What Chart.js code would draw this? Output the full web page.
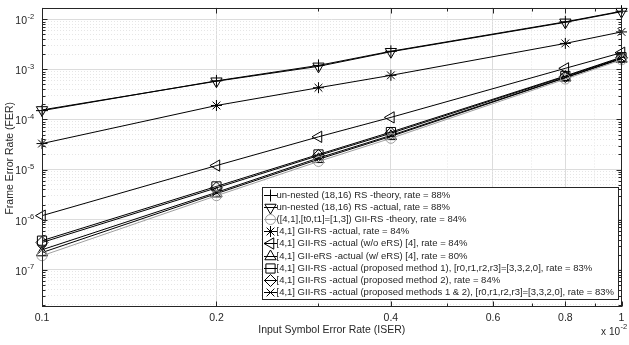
<!DOCTYPE html>
<html>
<head>
<meta charset="utf-8">
<script src="https://cdn.jsdelivr.net/npm/chart.js@4.4.1/dist/chart.umd.min.js"></script>
<style>
  html, body { margin: 0; padding: 0; background: #fff; }
  #wrap { width: 629px; height: 345px; }
</style>
</head>
<body>
<div id="wrap"><canvas id="grafico-fer" width="629" height="345"></canvas></div>
<script>
/* FER vs ISER - curvas em escala log-log */

// Eixo X (ISER, em unidades de 10^-2)
const xValues = [0.1, 0.2, 0.3, 0.4, 0.8, 1.0];
const xTickValues = [0.1, 0.2, 0.4, 0.6, 0.8, 1];
const xTickLabels = ['0.1', '0.2', '0.4', '0.6', '0.8', '1'];
const yTickExponents = [-7, -6, -5, -4, -3, -2];

// Séries (FER)
const rsTheory    = [1.5e-4, 5.9e-4, 1.2e-3, 2.3e-3, 8.9e-3, 1.45e-2];
const rsActual    = [1.55e-4, 5.8e-4, 1.15e-3, 2.25e-3, 8.7e-3, 1.42e-2];
const giiTheory   = [1.9e-7, 3.0e-6, 1.45e-5, 4.2e-5, 6.4e-4, 1.55e-3];
const giiActual   = [3.3e-5, 1.9e-4, 4.3e-4, 7.6e-4, 3.3e-3, 5.6e-3];
const giiNoErs    = [1.2e-6, 1.2e-5, 4.5e-5, 1.1e-4, 1.05e-3, 2.15e-3];
const giiErs      = [2.2e-7, 3.3e-6, 1.6e-5, 4.6e-5, 6.8e-4, 1.62e-3];
const giiMethod1  = [3.8e-7, 4.6e-6, 2.0e-5, 5.6e-5, 7.4e-4, 1.75e-3];
const giiMethod2  = [3.5e-7, 4.3e-6, 1.9e-5, 5.3e-5, 7.2e-4, 1.7e-3];
const giiMethod12 = [2.5e-7, 3.5e-6, 1.7e-5, 4.8e-5, 6.9e-4, 1.65e-3];

const seriesLabels = [
  'un-nested (18,16) RS -theory, rate = 88%',
  'un-nested (18,16) RS -actual, rate = 88%',
  '([4,1],[t0,t1]=[1,3]) GII-RS -theory, rate = 84%',
  '[4,1] GII-RS -actual, rate = 84%',
  '[4,1] GII-RS -actual (w/o eRS) [4], rate = 84%',
  '[4,1] GII-eRS -actual (w/ eRS) [4], rate = 80%',
  '[4,1] GII-RS -actual (proposed method 1), [r0,r1,r2,r3]=[3,3,2,0], rate = 83%',
  '[4,1] GII-RS -actual (proposed method 2), rate = 84%',
  '[4,1] GII-RS -actual (proposed methods 1 & 2), [r0,r1,r2,r3]=[3,3,2,0], rate = 83%'
];
const seriesValues = [rsTheory, rsActual, giiTheory, giiActual, giiNoErs, giiErs, giiMethod1, giiMethod2, giiMethod12];

// Estilo de cada marcador (pointStyle, rotação, raio, cor)
const markerStyles = [
  ['cross', 0, 6, '#000'],
  ['triangle', 180, 6.5, '#000'],
  ['circle', 0, 5, '#a0a0a0'],
  ['star', 0, 5.5, '#000'],
  ['triangle', -90, 6.5, '#000'],
  ['triangle', 0, 6.5, '#000'],
  ['rect', 0, 6.5, '#000'],
  ['rectRot', 0, 6, '#000'],
  ['crossRot', 0, 5.5, '#000']
];

const FONT = '"Liberation Sans", Arial, sans-serif';
const TEXT_COLOR = '#262626';

// Valores do grid do eixo Y (1..9 x 10^k)
const yMin = 1.8e-8, yMax = 1.72e-2;
const yGridValues = [];
for (let e = -8; e <= -2; e++) {
  for (let m = 1; m <= 9; m++) {
    const v = m * Math.pow(10, e);
    if (v >= yMin && v <= yMax) yGridValues.push(v);
  }
}
const xGridValues = [0.1, 0.2, 0.3, 0.4, 0.5, 0.6, 0.7, 0.8, 0.9, 1];

function isMajorX(v) {
  return xTickValues.some(t => Math.abs(t - v) < 1e-9);
}
function isMajorY(v) {
  const l = Math.log10(v);
  return Math.abs(l - Math.round(l)) < 1e-9;
}

const datasets = seriesValues.map((vals, i) => {
  const [style, rot, r, color] = markerStyles[i];
  return {
    label: seriesLabels[i],
    data: vals.map((y, j) => ({ x: xValues[j], y: y })),
    borderColor: color,
    borderWidth: 1,
    pointStyle: style,
    pointRotation: rot,
    pointRadius: r,
    pointBorderColor: color,
    pointBackgroundColor: 'rgba(0,0,0,0)',
    pointBorderWidth: 1,
    tension: 0,
    clip: false
  };
});

// Moldura, ticks internos, rótulos e legenda
const molduraPlugin = {
  id: 'moldura',
  afterDraw(chart) {
    const ctx = chart.ctx;
    const area = chart.chartArea;
    const xs = chart.scales.x;
    const ys = chart.scales.y;
    const L = Math.round(area.left) + 0.5, R = Math.round(area.right) - 0.5;
    const T = Math.round(area.top) + 0.5, B = Math.round(area.bottom) - 0.5;

    ctx.save();
    ctx.strokeStyle = TEXT_COLOR;
    ctx.lineWidth = 1;
    ctx.beginPath();
    xGridValues.forEach(v => {
      const px = Math.round(xs.getPixelForValue(v)) + 0.5;
      const len = isMajorX(v) ? 5 : 3;
      ctx.moveTo(px, B); ctx.lineTo(px, B - len);
      ctx.moveTo(px, T); ctx.lineTo(px, T + len);
    });
    yGridValues.forEach(v => {
      const py = Math.round(ys.getPixelForValue(v)) + 0.5;
      const len = isMajorY(v) ? 5 : 3;
      ctx.moveTo(L, py); ctx.lineTo(L + len, py);
      ctx.moveTo(R, py); ctx.lineTo(R - len, py);
    });
    ctx.stroke();
    ctx.strokeRect(L, T, R - L, B - T);

    // rótulos do eixo X
    ctx.fillStyle = TEXT_COLOR;
    ctx.font = '10.5px ' + FONT;
    ctx.textAlign = 'center';
    ctx.textBaseline = 'middle';
    xTickValues.forEach((v, i) => {
      ctx.fillText(xTickLabels[i], xs.getPixelForValue(v), area.bottom + 11);
    });

    // rótulos do eixo Y (10^k)
    yTickExponents.forEach(e => {
      const py = ys.getPixelForValue(Math.pow(10, e));
      ctx.font = '10.5px ' + FONT;
      ctx.textAlign = 'right';
      ctx.fillText('10', 27, py + 2);
      ctx.font = '7.5px ' + FONT;
      ctx.textAlign = 'left';
      ctx.fillText('-' + Math.abs(e), 27.5, py - 2.5);
    });

    // multiplicador x 10^-2
    ctx.font = '10px ' + FONT;
    ctx.textAlign = 'right';
    ctx.fillText('x 10', 620, 332);
    ctx.font = '7.5px ' + FONT;
    ctx.textAlign = 'left';
    ctx.fillText('-2', 620.5, 327);

    // títulos dos eixos
    ctx.font = '10.5px ' + FONT;
    ctx.textAlign = 'center';
    ctx.fillText('Input Symbol Error Rate (ISER)', (area.left + area.right) / 2, 330);
    ctx.save();
    ctx.translate(10, (area.top + area.bottom) / 2 + 1);
    ctx.rotate(-Math.PI / 2);
    ctx.fillText('Frame Error Rate (FER)', 0, 0);
    ctx.restore();

    // legenda
    const box = { x: 262.5, y: 187.5, w: 356, h: 112 };
    ctx.fillStyle = '#fff';
    ctx.fillRect(box.x, box.y, box.w, box.h);
    ctx.strokeStyle = TEXT_COLOR;
    ctx.strokeRect(box.x, box.y, box.w, box.h);
    ctx.font = '9.5px ' + FONT;
    ctx.textAlign = 'left';
    ctx.textBaseline = 'middle';
    chart.data.datasets.forEach((ds, i) => {
      const cy = Math.round(195 + i * 12.1) + 0.5;
      ctx.strokeStyle = ds.borderColor;
      ctx.lineWidth = 1;
      ctx.beginPath();
      ctx.moveTo(264, cy); ctx.lineTo(277, cy);
      ctx.stroke();
      if (Chart.helpers && Chart.helpers.drawPoint) {
        ctx.fillStyle = 'rgba(0,0,0,0)';
        Chart.helpers.drawPoint(ctx, {
          pointStyle: ds.pointStyle,
          rotation: ds.pointRotation,
          radius: ds.pointRadius,
          borderWidth: 1
        }, 270.5, cy);
      }
      ctx.fillStyle = TEXT_COLOR;
      ctx.fillText(ds.label, 276.5, cy);
    });
    ctx.restore();
  }
};

const ctxGrafico = document.getElementById('grafico-fer');
window.ferChart = new Chart(ctxGrafico, {
  type: 'line',
  data: { datasets: datasets },
  options: {
    responsive: false,
    animation: false,
    devicePixelRatio: 1,
    layout: { padding: { left: 0, right: 4, top: 2, bottom: 0 } },
    plugins: {
      legend: { display: false },
      tooltip: { enabled: false },
      title: { display: false }
    },
    scales: {
      x: {
        type: 'logarithmic',
        min: 0.1,
        max: 1,
        afterBuildTicks: (scale) => {
          scale.ticks = xGridValues.map(v => ({ value: v, major: isMajorX(v) }));
        },
        afterFit: (scale) => { scale.height = 38; },
        ticks: { display: false },
        grid: {
          drawTicks: false,
          color: (c) => (c.tick && c.tick.major) ? '#dcdcdc' : '#e6e6e6'
        },
        border: {
          display: false,
          dash: (c) => (c.tick && !c.tick.major) ? [1, 2] : []
        }
      },
      y: {
        type: 'logarithmic',
        min: yMin,
        max: yMax,
        afterBuildTicks: (scale) => {
          scale.ticks = yGridValues.map(v => ({ value: v, major: isMajorY(v) }));
        },
        afterFit: (scale) => { scale.width = 42; },
        ticks: { display: false },
        grid: {
          drawTicks: false,
          color: (c) => (c.tick && c.tick.major) ? '#dcdcdc' : '#e6e6e6'
        },
        border: {
          display: false,
          dash: (c) => (c.tick && !c.tick.major) ? [1, 2] : []
        }
      }
    }
  },
  plugins: [molduraPlugin]
});
</script>
</body>
</html>
